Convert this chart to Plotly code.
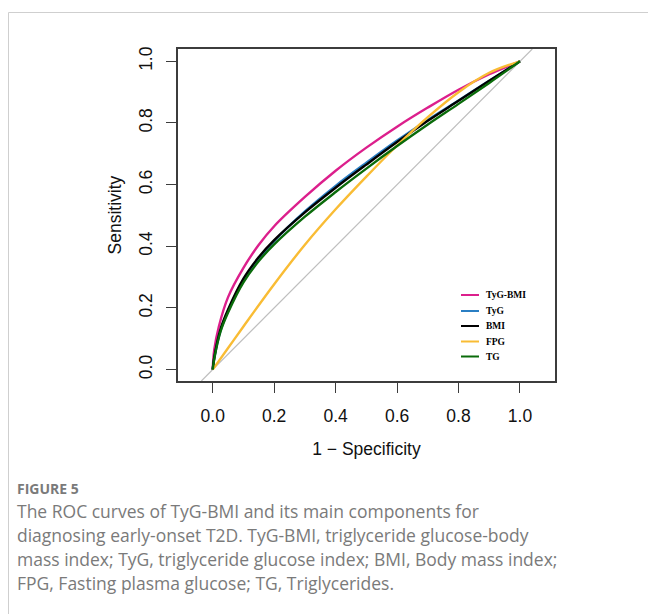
import plotly.graph_objects as go

# ---------------- data ----------------
fpr_tygbmi = [0, 0.005, 0.02, 0.05, 0.1, 0.15, 0.2, 0.3, 0.4, 0.5, 0.6, 0.7, 0.8, 0.9, 1.0]
sens_tygbmi = [0, 0.065, 0.14, 0.235, 0.33, 0.405, 0.465, 0.56, 0.645, 0.72, 0.788, 0.85, 0.908, 0.958, 1.0]

fpr_tyg = [0, 0.005, 0.025, 0.05, 0.1, 0.15, 0.2, 0.3, 0.4, 0.5, 0.6, 0.7, 0.8, 0.9, 1.0]
sens_tyg = [0, 0.036, 0.125, 0.19, 0.29, 0.36, 0.417, 0.513, 0.596, 0.671, 0.743, 0.81, 0.873, 0.937, 1.0]

fpr_bmi = [0, 0.005, 0.025, 0.05, 0.1, 0.15, 0.2, 0.3, 0.4, 0.5, 0.6, 0.7, 0.8, 0.9, 1.0]
sens_bmi = [0, 0.04, 0.13, 0.195, 0.295, 0.365, 0.42, 0.51, 0.59, 0.665, 0.738, 0.807, 0.872, 0.937, 1.0]

fpr_fpg = [0, 0.05, 0.1, 0.2, 0.3, 0.4, 0.5, 0.6, 0.7, 0.8, 0.9, 1.0]
sens_fpg = [0, 0.07, 0.14, 0.277, 0.405, 0.52, 0.626, 0.727, 0.819, 0.9, 0.963, 1.0]

fpr_tg = [0, 0.005, 0.025, 0.05, 0.1, 0.15, 0.2, 0.3, 0.4, 0.5, 0.6, 0.7, 0.8, 0.9, 1.0]
sens_tg = [0, 0.035, 0.122, 0.185, 0.283, 0.352, 0.406, 0.496, 0.576, 0.652, 0.725, 0.795, 0.862, 0.93, 1.0]

series_names = ["TyG-BMI", "TyG", "BMI", "FPG", "TG"]
series_colors = ["#DC1F8C", "#2A7EC3", "#000000", "#F9BC34", "#0A6B0A"]
series_x = [fpr_tygbmi, fpr_tyg, fpr_bmi, fpr_fpg, fpr_tg]
series_y = [sens_tygbmi, sens_tyg, sens_bmi, sens_fpg, sens_tg]

tick_vals = [0.0, 0.2, 0.4, 0.6, 0.8, 1.0]
tick_text = ["0.0", "0.2", "0.4", "0.6", "0.8", "1.0"]

caption_head = "FIGURE 5"
caption_lines = [
    "The ROC curves of TyG-BMI and its main components for",
    "diagnosing early-onset T2D. TyG-BMI, triglyceride glucose-body",
    "mass index; TyG, triglyceride glucose index; BMI, Body mass index;",
    "FPG, Fasting plasma glucose; TG, Triglycerides.",
]

# ---------------- layout geometry ----------------
W, H = 648, 614
L, R, T, B = 178, 555, 49, 381  # plot box in pixels
xrange_ = [-0.113, 1.114]
yrange_ = [-0.037, 1.04]


def px(xp):
    return (xp - L) / (R - L)


def py(yp):
    return (B - yp) / (B - T)


fig = go.Figure()

# chance diagonal (abline 0,1) across the plot region
d0 = max(xrange_[0], yrange_[0])
d1 = min(xrange_[1], yrange_[1])
fig.add_trace(go.Scatter(x=[d0, d1], y=[d0, d1], mode="lines",
                         line=dict(color="#BEBEBE", width=1.2),
                         showlegend=False, hoverinfo="skip"))

for name, col, xs, ys in zip(series_names, series_colors, series_x, series_y):
    fig.add_trace(go.Scatter(x=xs, y=ys, mode="lines", name=name,
                             line=dict(color=col, width=2.4, shape="spline", smoothing=1.0),
                             showlegend=False))

shapes = []
annotations = []

# manual legend (R-style, inside the plot)
leg_rows = [295, 311, 326, 341.5, 356.5]
for name, col, yy in zip(series_names, series_colors, leg_rows):
    shapes.append(dict(type="line", xref="paper", yref="paper",
                       x0=px(461), x1=px(479), y0=py(yy), y1=py(yy),
                       line=dict(color=col, width=2)))
    annotations.append(dict(text="<b>" + name + "</b>", xref="paper", yref="paper",
                            x=px(484), y=py(yy), xanchor="left", yanchor="middle",
                            showarrow=False,
                            font=dict(family="Liberation Serif", size=9.5, color="#000")))

# outer light frame (top and left)
shapes.append(dict(type="line", xref="paper", yref="paper",
                   x0=px(8.5), x1=px(W + 5), y0=py(12.5), y1=py(12.5),
                   line=dict(color="#CFCFCF", width=1)))
shapes.append(dict(type="line", xref="paper", yref="paper",
                   x0=px(8.5), x1=px(8.5), y0=py(12.5), y1=py(H + 5),
                   line=dict(color="#CFCFCF", width=1)))

# caption
cap_x = 15
annotations.append(dict(text="<b>" + caption_head + "</b>", xref="paper", yref="paper",
                        x=px(cap_x), y=py(488), xanchor="left", yanchor="middle",
                        showarrow=False,
                        font=dict(family="Open Sans", size=14, color="#7A7A7A")))
for i, line in enumerate(caption_lines):
    annotations.append(dict(text=line, xref="paper", yref="paper",
                            x=px(cap_x), y=py(511 + 24 * i), xanchor="left", yanchor="middle",
                            showarrow=False,
                            font=dict(family="Open Sans", size=17.5, color="#7A7A7A")))

axis_common = dict(showline=True, linecolor="#3C3C3C", linewidth=1.6, mirror=True,
                   ticks="outside", ticklen=10, tickwidth=1.3, tickcolor="#3C3C3C",
                   showgrid=False, zeroline=False,
                   tickvals=tick_vals, ticktext=tick_text,
                   tickfont=dict(family="Liberation Sans", size=17.5, color="#111"))

fig.update_layout(
    width=W, height=H,
    margin=dict(l=L, r=W - R, t=T, b=H - B),
    paper_bgcolor="white", plot_bgcolor="white",
    showlegend=False,
    xaxis=dict(range=xrange_, ticklabelstandoff=8, **axis_common,
               title=dict(text="1 \u2212 Specificity", standoff=18,
                          font=dict(family="Liberation Sans", size=17.5, color="#111"))),
    yaxis=dict(range=yrange_, tickangle=-90, ticklabelstandoff=7, **axis_common,
               title=dict(text="Sensitivity", standoff=10,
                          font=dict(family="Liberation Sans", size=17.5, color="#111"))),
    shapes=shapes,
    annotations=annotations,
)

fig.write_html("out.html")
